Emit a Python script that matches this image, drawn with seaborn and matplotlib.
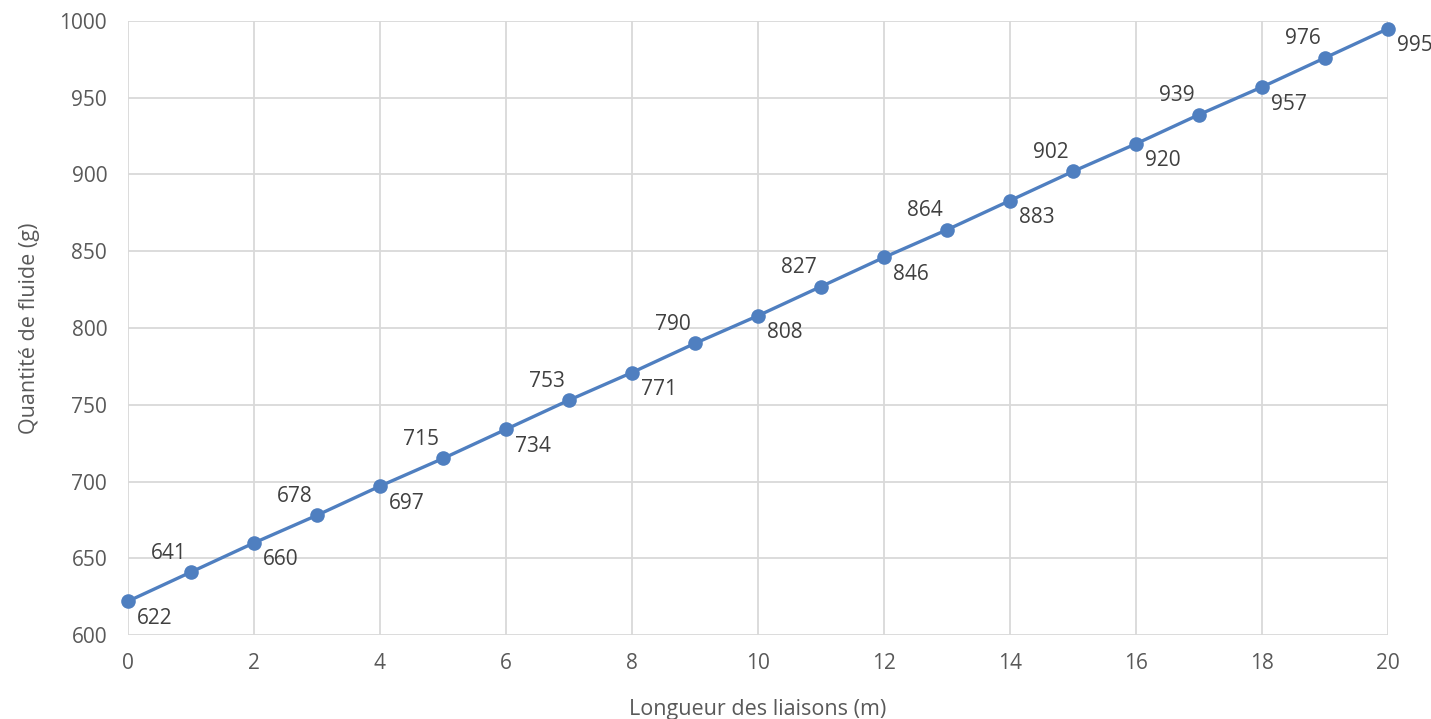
import matplotlib
matplotlib.use("Agg")
import matplotlib.pyplot as plt
import seaborn as sns
import pandas as pd

lengths = list(range(0, 21))
quantities = [622, 641, 660, 678, 697, 715, 734, 753, 771, 790, 808,
              827, 846, 864, 883, 902, 920, 939, 957, 976, 995]
x_label = "Longueur des liaisons (m)"
y_label = "Quantité de fluide (g)"

sns.set_theme(style="whitegrid")
plt.rcParams['font.family'] = ['Open Sans', 'DejaVu Sans']

df = pd.DataFrame({"x": lengths, "y": quantities})

fig = plt.figure(figsize=(14.31, 7.19), dpi=100)
ax = fig.add_axes([128/1431, 1-635/719, (1388-128)/1431, (635-21)/719])

color = "#4F7FC0"
sns.lineplot(data=df, x="x", y="y", ax=ax, color=color, linewidth=2.4,
             marker="o", markersize=10.5, markeredgewidth=0, markerfacecolor=color)
for ln in ax.lines:
    ln.set_clip_on(False)
    ln.set_zorder(5)

px = 0.72
for i, (xv, yv) in enumerate(zip(lengths, quantities)):
    if i % 2 == 0:
        off = (27*px, -17*px)
    else:
        off = (-22*px, 19*px)
    ax.annotate(str(yv), (xv, yv), xytext=off, textcoords="offset points",
                ha="center", va="center", fontsize=15, color="#404040")

ax.set_xlim(0, 20)
ax.set_ylim(600, 1000)
ax.set_xticks(range(0, 21, 2))
ax.set_yticks(range(600, 1001, 50))
ax.grid(True, color="#D9D9D9", linewidth=1.3)
for s in ax.spines.values():
    s.set_visible(False)
ax.tick_params(axis="y", labelsize=15, colors="#595959", length=0, pad=15)
ax.tick_params(axis="x", labelsize=15, colors="#595959", length=0, pad=13)
ax.set_xlabel(x_label, fontsize=15.5, color="#595959", labelpad=18)
ax.set_ylabel(y_label, fontsize=15.5, color="#595959", labelpad=14)

fig.savefig("out.png", dpi=100)
